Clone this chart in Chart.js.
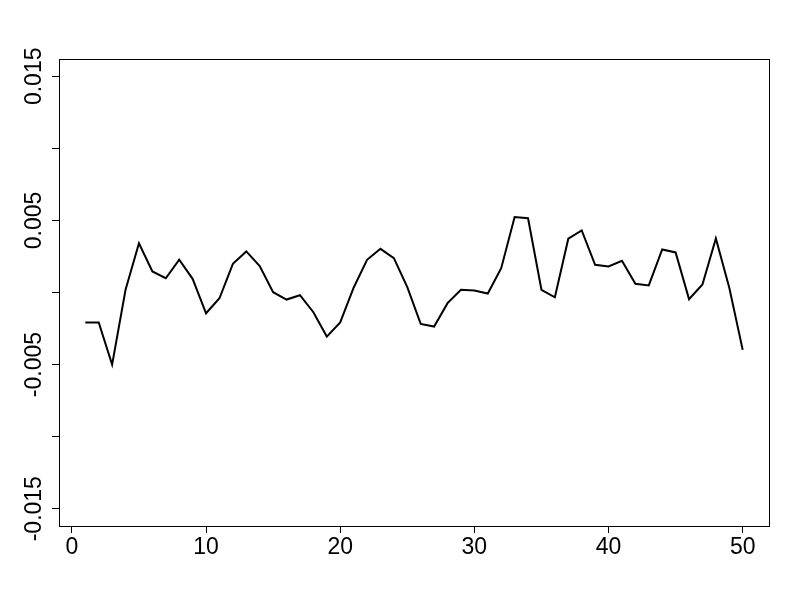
<!DOCTYPE html>
<html>
<head>
<meta charset="utf-8">
<script src="https://cdn.jsdelivr.net/npm/chart.js@4"></script>
<style>
  html, body { margin: 0; padding: 0; background: #fff; }
  #wrap { width: 800px; height: 600px; }
</style>
</head>
<body>
<div id="wrap"><canvas id="mychart" width="800" height="600"></canvas></div>
<script>
// index 1..50
var xs = [];
for (var i = 1; i <= 50; i++) xs.push(i);

// values
var values = [
  -0.00208, -0.00208, -0.00500, 0.00019, 0.00342, 0.00146, 0.00099, 0.00227, 0.00095, -0.00144,
  -0.00040, 0.00199, 0.00285, 0.00183, 0.00002, -0.00049, -0.00019, -0.00137, -0.00306, -0.00208,
  0.00033, 0.00227, 0.00303, 0.00238, 0.00037, -0.00218, -0.00236, -0.00074, 0.00019, 0.00014,
  -0.00007, 0.00169, 0.00523, 0.00515, 0.00019, -0.00033, 0.00373, 0.00431, 0.00192, 0.00181,
  0.00220, 0.00060, 0.00049, 0.00299, 0.00278, -0.00046, 0.00056, 0.00375, 0.00033, -0.00398
];

var xTicks = [0, 10, 20, 30, 40, 50];
var yTicks = [-0.015, -0.01, -0.005, 0, 0.005, 0.01, 0.015];
var yLabelValues = [-0.015, -0.005, 0.005, 0.015];
var yLabelTexts = ['-0.015', '-0.005', '0.005', '0.015'];

var fontFamily = '"Liberation Sans", Arial, sans-serif';

var points = xs.map(function (x, k) { return { x: x, y: values[k] }; });

// white background + box round the plot + rotated y labels like R
var framePlugin = {
  id: 'frame',
  beforeDraw: function (chart) {
    var ctx = chart.ctx;
    ctx.save();
    ctx.fillStyle = '#fff';
    ctx.fillRect(0, 0, chart.width, chart.height);
    ctx.restore();
  },
  afterDraw: function (chart) {
    var ctx = chart.ctx, a = chart.chartArea, y = chart.scales.y;
    ctx.save();
    ctx.strokeStyle = '#000';
    ctx.lineWidth = 1;
    ctx.strokeRect(a.left + 0.5, a.top + 0.5, a.right - a.left, a.bottom - a.top);
    ctx.fillStyle = '#000';
    ctx.font = '23px ' + fontFamily;
    ctx.textAlign = 'center';
    ctx.textBaseline = 'middle';
    yLabelValues.forEach(function (v, k) {
      var py = y.getPixelForValue(v);
      ctx.save();
      ctx.translate(35, py);
      ctx.rotate(-Math.PI / 2);
      ctx.fillText(yLabelTexts[k], 0, 0);
      ctx.restore();
    });
    ctx.restore();
  }
};

new Chart(document.getElementById('mychart'), {
  type: 'line',
  data: {
    datasets: [{
      data: points,
      borderColor: '#000',
      borderWidth: 2,
      pointRadius: 0,
      tension: 0,
      fill: false
    }]
  },
  options: {
    responsive: false,
    animation: false,
    events: [],
    layout: { padding: { left: 0, top: 59, right: 31, bottom: 0 } },
    plugins: { legend: { display: false }, tooltip: { enabled: false } },
    scales: {
      x: {
        type: 'linear',
        min: -0.96,
        max: 51.96,
        afterBuildTicks: function (scale) {
          scale.ticks = xTicks.map(function (v) { return { value: v }; });
        },
        afterFit: function (scale) { scale.height = 74; },
        border: { display: false },
        grid: { drawOnChartArea: false, drawTicks: true, tickLength: 7, color: '#000', lineWidth: 1 },
        ticks: {
          color: '#000',
          padding: 1,
          maxRotation: 0,
          font: { family: fontFamily, size: 23 },
          callback: function (v) { return String(v); }
        }
      },
      y: {
        type: 'linear',
        min: -0.0162,
        max: 0.0162,
        afterBuildTicks: function (scale) {
          scale.ticks = yTicks.map(function (v) { return { value: v }; });
        },
        afterFit: function (scale) { scale.width = 59; },
        border: { display: false },
        grid: { drawOnChartArea: false, drawTicks: true, tickLength: 7, color: '#000', lineWidth: 1 },
        ticks: { display: false }
      }
    }
  },
  plugins: [framePlugin]
});
</script>
</body>
</html>
